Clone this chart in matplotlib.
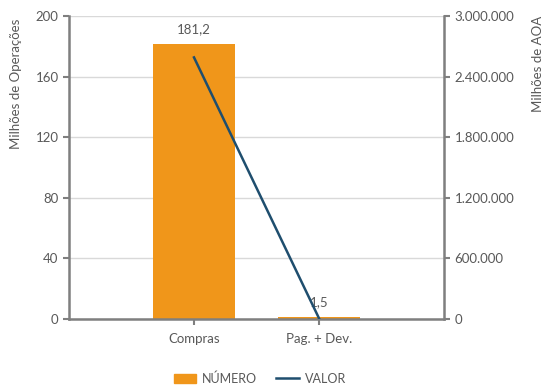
import numpy as np
import matplotlib
matplotlib.use("Agg")
import matplotlib.pyplot as plt
from matplotlib.ticker import FuncFormatter
from matplotlib.patches import Patch
from matplotlib.lines import Line2D

plt.rcParams['font.family'] = ['Lato', 'DejaVu Sans']

###############################################################################
# Data
categories = ['Compras', 'Pag. + Dev.']
numero = [181.2, 1.5]            # milhões de operações
valor = [2590000, 8000]          # milhões de AOA
numero_labels = ['181,2', '1,5']

left_ticks = [0, 40, 80, 120, 160, 200]
right_ticks = [0, 600000, 1200000, 1800000, 2400000, 3000000]

###############################################################################
orange = '#F0961A'
navy = '#1F4E6E'
grey = '#7F7F7F'
text_col = '#595959'
fs = 9.5

fig = plt.figure(figsize=(5.53, 3.9), dpi=100)
ax = fig.add_axes([0.1248, 0.182, 0.678, 0.777])
ax2 = ax.twinx()

x = np.arange(len(categories))
ax.bar(x, numero, width=0.65, color=orange, zorder=2)
for xi, v, lab in zip(x, numero, numero_labels):
    ax.text(xi, v + 6, lab, ha='center', va='bottom', fontsize=fs, color=text_col)

ax2.plot(x, valor, color=navy, linewidth=1.8, zorder=3)

ax.set_xlim(-1, 2)
ax.set_ylim(0, 200)
ax2.set_ylim(0, 3000000)
ax.set_xticks(x)
ax.set_xticklabels(categories)
ax.set_yticks(left_ticks)
ax2.set_yticks(right_ticks)
ax2.yaxis.set_major_formatter(FuncFormatter(lambda v, p: f"{int(v):,}".replace(',', '.')))

ax.grid(axis='y', color='#D9D9D9', linewidth=1, zorder=0)
ax.set_axisbelow(True)
ax.set_zorder(ax2.get_zorder() - 1)
ax.patch.set_visible(False)

for a in (ax, ax2):
    for s in a.spines.values():
        s.set_visible(False)
    a.tick_params(colors=grey, labelcolor=text_col, labelsize=fs, width=1.5, length=4)
ax.tick_params(axis='x', pad=6)
ax.spines['left'].set_visible(True)
ax.spines['bottom'].set_visible(True)
ax2.spines['right'].set_visible(True)
for s in (ax.spines['left'], ax.spines['bottom'], ax2.spines['right']):
    s.set_color(grey)
    s.set_linewidth(1.8)

ax.set_ylabel('Milhões de Operações', fontsize=fs, color=text_col, loc='top')
ax.yaxis.set_label_coords(-0.125, 0.99)
ax2.set_ylabel('Milhões de AOA', fontsize=fs, color=text_col, loc='top')
ax2.yaxis.set_label_coords(1.235, 1.0)

handles = [Patch(color=orange, label='NÚMERO'),
           Line2D([0], [0], color=navy, linewidth=1.8, label='VALOR')]
fig.legend(handles=handles, loc='lower center', bbox_to_anchor=(0.47, -0.015), ncol=2,
           frameon=False, fontsize=9, labelcolor=text_col, handlelength=1.8,
           handletextpad=0.5, columnspacing=1.5)

fig.savefig('out.png', dpi=100)
